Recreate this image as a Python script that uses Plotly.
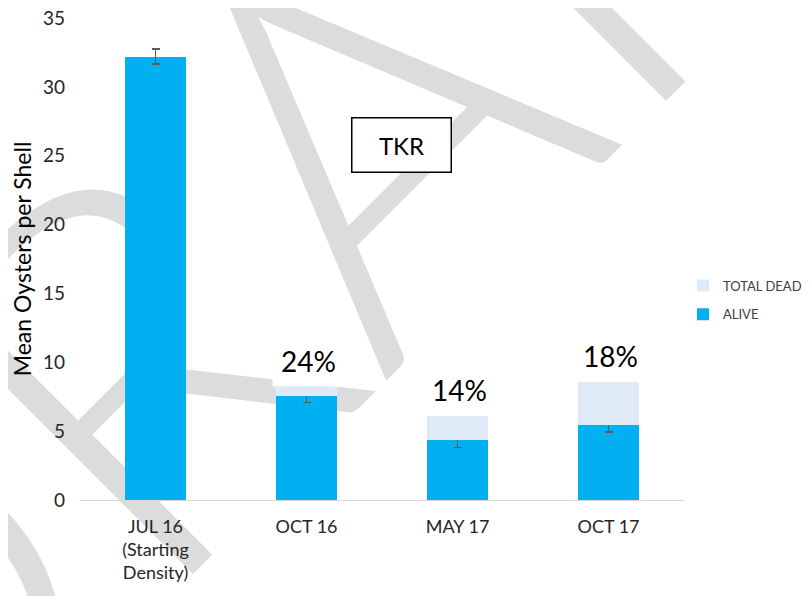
import plotly.graph_objects as go

categories = ["JUL 16<br>(Starting<br>Density)", "OCT 16", "MAY 17", "OCT 17"]
alive = [32.2, 7.55, 4.36, 5.47]
alive_err = [0.55, 0.47, 0.56, 0.55]
total_dead = [0.0, 0.69, 1.74, 3.08]
pct_labels = [None, "24%", "14%", "18%"]
y_ticks = [0, 5, 10, 15, 20, 25, 30, 35]

FONT = "Lato"
OFF = 8  # page body margin of the html
PL, PR, PT, PB = 80, 684, 18, 500  # plot area in page pixels


def px(x):
    return (x - PL) / (PR - PL)


def py(y):
    return (PB - y) / (PB - PT)


fig = go.Figure()
fig.add_trace(go.Bar(
    x=categories, y=alive, name="ALIVE", legendgroup="alive", legendrank=2,
    marker=dict(color="#00B0F0", line=dict(width=0)),
    error_y=dict(type="data", array=alive_err, color="#5A5A5A", thickness=1.5, width=4),
    width=0.41,
))
fig.add_trace(go.Bar(
    x=categories, y=total_dead, name="TOTAL DEAD", legendgroup="dead", legendrank=1,
    marker=dict(color="#DEEBF7", line=dict(width=0)),
    width=0.41,
))

annotations = []
for c, a, d, lab in zip(categories, alive, total_dead, pct_labels):
    if lab:
        annotations.append(dict(
            x=c, y=a + d, xref="x", yref="y", text=lab, showarrow=False,
            yanchor="middle", yshift=26, xshift=2,
            font=dict(family=FONT, size=28, color="#000000"),
            bgcolor="#FFFFFF", borderpad=8,
        ))
annotations.append(dict(
    x=px(402), y=py(145.5), xref="paper", yref="paper",
    text="TKR", showarrow=False, xanchor="center", yanchor="middle",
    font=dict(family=FONT, size=24, color="#000000"),
    bgcolor="#FFFFFF", bordercolor="#000000", borderwidth=1.5,
    borderpad=12, width=74,
))

fig.update_layout(
    width=812 - OFF, height=596 - OFF,
    margin=dict(l=PL - OFF, r=812 - PR, t=PT - OFF, b=596 - PB, autoexpand=False),
    paper_bgcolor="#FFFFFF", plot_bgcolor="rgba(0,0,0,0)",
    barmode="stack",
    font=dict(family=FONT, color="#404040"),
    showlegend=True,
    legend=dict(
        traceorder="grouped", tracegroupgap=9,
        x=px(683), xanchor="left", y=py(300), yanchor="middle",
        font=dict(family=FONT, size=13, color="#404040"),
        itemwidth=30, bgcolor="rgba(0,0,0,0)",
    ),
    xaxis=dict(
        showgrid=False, showline=True, linecolor="#D9D9D9", linewidth=1,
        ticks="", ticklabelstandoff=10, ticklabeloverflow="allow",
        tickfont=dict(family=FONT, size=18, color="#262626"),
    ),
    yaxis=dict(
        range=[0, 35], tickvals=y_ticks, showgrid=False, showline=False,
        zeroline=False, ticks="", ticklabelstandoff=14, ticklabeloverflow="allow",
        tickfont=dict(family=FONT, size=19, color="#262626"),
        title=dict(text="Mean Oysters per Shell", font=dict(family=FONT, size=23, color="#000000"), standoff=5),
    ),
    annotations=annotations,
    shapes=[dict(
        type="rect", xref="paper", yref="paper",
        x0=px(312), x1=px(312) + 0.001,
        y0=py(155), y1=py(155) + 0.001,
        line=dict(width=0), fillcolor="rgba(0,0,0,0)", layer="below",
        label=dict(text="DRAFT", textangle=-45, textposition="middle center",
                   font=dict(family=FONT, size=530, color="#DCDCDC", weight=300)),
    )],
)

fig.write_html("out.html")
